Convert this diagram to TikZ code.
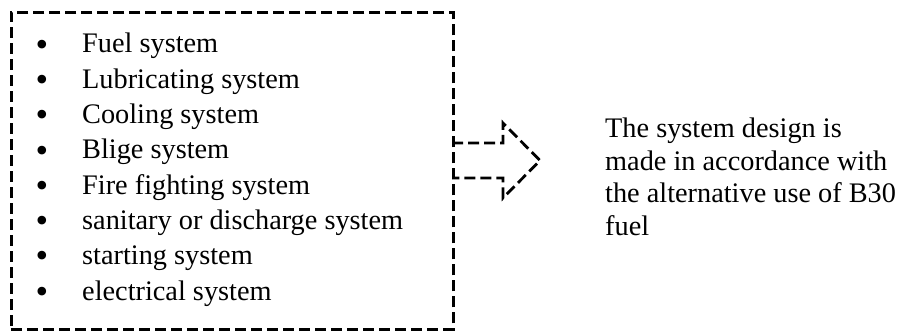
\documentclass[tikz,border=0pt]{standalone}
\usepackage{fontspec}
\setmainfont{Liberation Serif}
\begin{document}
\begin{tikzpicture}[x=1pt,y=-1pt,
  dashline/.style={draw=black,line width=2.8pt,dash pattern=on 11pt off 5pt},
  itemtxt/.style={anchor=base west,inner sep=0pt,font=\fontsize{28.3}{32}\selectfont},
  bul/.style={anchor=center,inner sep=0pt,font=\fontsize{36}{40}\selectfont}]
\useasboundingbox (0,0) rectangle (902,331);
\fill[white] (0,0) rectangle (902,331);
% list box
\node[dashline,rectangle,minimum width=442pt,minimum height=317pt,inner sep=0pt,anchor=north west] (box) at (10,11) {};
% list items
\foreach \t [count=\i from 0] in {Fuel system,Lubricating system,Cooling system,Blige system,Fire fighting system,sanitary or discharge system,starting system,electrical system}{
  \node[bul] (b\i) at (42,48+35.3*\i) {•};
  \node[itemtxt] (it\i) at (82,53+35.3*\i) {\t};
}
% arrow
\coordinate (a1) at (452,143);
\coordinate (a2) at (503,143);
\coordinate (a3) at (503,123);
\coordinate (a4) at (540,160.5);
\coordinate (a5) at (503,198);
\coordinate (a6) at (503,178);
\coordinate (a7) at (452,178);
\draw[dashline] (a1) -- (a2) -- (a3) -- (a4) -- (a5) -- (a6) -- (a7);
% result text
\node[itemtxt] (r1) at (605,138) {The system design is};
\node[itemtxt] (r2) at (605,170.5) {made in accordance with};
\node[itemtxt] (r3) at (605,203) {the alternative use of B30};
\node[itemtxt] (r4) at (605,235.5) {fuel};
\end{tikzpicture}
\end{document}
